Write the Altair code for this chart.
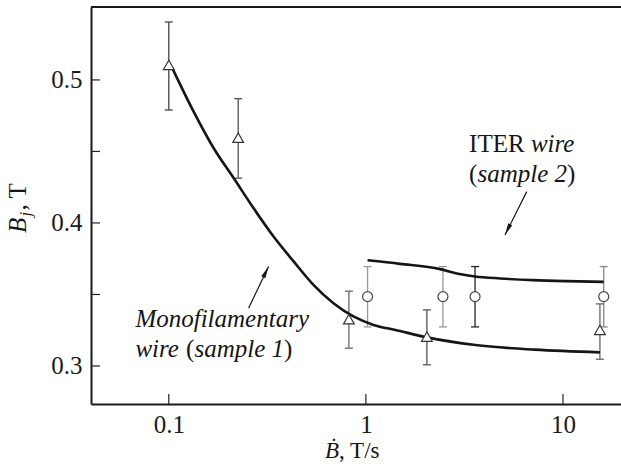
import altair as alt
import pandas as pd

FONT = "Liberation Serif"

# ---- data ----
s1_x = [0.1, 0.225, 0.82, 2.04, 15.4]
s1_y = [0.5105, 0.4596, 0.3327, 0.3205, 0.3252]
s1_lo = [0.479, 0.4313, 0.3124, 0.3008, 0.3047]
s1_hi = [0.5405, 0.4869, 0.3523, 0.3392, 0.3434]
s1_bar = ["#444", "#555", "#666", "#555", "#666"]

s2_x = [1.02, 2.46, 3.58, 16.1]
s2_y = [0.3485, 0.3485, 0.3485, 0.3485]
s2_lo = [0.3273, 0.3273, 0.3273, 0.3273]
s2_hi = [0.3695, 0.3695, 0.3695, 0.3695]
s2_bar = ["#999", "#999", "#222", "#888"]

c1_x = [0.104, 0.1337, 0.169, 0.2133, 0.269, 0.340, 0.430, 0.542, 0.685, 0.865, 1.093, 1.43, 2.04, 3.6, 7.2, 15.4]
c1_y = [0.5085, 0.4778, 0.4522, 0.4314, 0.4104, 0.3905, 0.3731, 0.3567, 0.3439, 0.3346, 0.3287, 0.3250, 0.3200, 0.3146, 0.3114, 0.3095]

c2_x = [1.02, 1.49, 2.38, 2.89, 3.58, 4.80, 7.06, 10.4, 16.1]
c2_y = [0.3739, 0.3714, 0.3677, 0.3647, 0.3626, 0.3612, 0.3600, 0.3593, 0.3588]

x_ticks = [0.1, 1, 10]
y_labels = [0.3, 0.4, 0.5]
y_ticks = [0.3, 0.35, 0.4, 0.45, 0.5]

X_DOMAIN = [0.0403, 19.7]
Y_DOMAIN = [0.2734, 0.551]
W, H = 530, 397

xs = alt.Scale(type="log", domain=X_DOMAIN, nice=False, zero=False)
ys = alt.Scale(domain=Y_DOMAIN, nice=False, zero=False)

AX = alt.Axis(values=x_ticks, format="~g", ticks=False, tickSize=0, grid=False, title=None,
              domainColor="#1a1a1a", domainWidth=2, labelFont=FONT,
              labelFontSize=25, labelColor="#1a1a1a", labelPadding=8, labelFlush=False)
AY = alt.Axis(values=y_labels, format=".1f", ticks=False, tickSize=0, grid=False, title=None,
              domainColor="#1a1a1a", domainWidth=2, labelFont=FONT,
              labelFontSize=25, labelColor="#1a1a1a", labelPadding=9)

pts = pd.DataFrame({
    "x": s1_x + s2_x,
    "y": s1_y + s2_y,
    "lo": s1_lo + s2_lo,
    "hi": s1_hi + s2_hi,
    "bar": s1_bar + s2_bar,
    "sample": ["1"] * len(s1_x) + ["2"] * len(s2_x),
})
curves = pd.DataFrame({
    "x": c1_x + c2_x,
    "y": c1_y + c2_y,
    "sample": ["1"] * len(c1_x) + ["2"] * len(c2_x),
})

X = lambda f="x": alt.X(f + ":Q", scale=xs, axis=AX)
Y = lambda f="y": alt.Y(f + ":Q", scale=ys, axis=AY)

top_line = alt.Chart(pd.DataFrame({"a": [0]})).mark_rule(color="#1a1a1a", strokeWidth=2).encode(
    x=alt.value(0), x2=alt.value(W), y=alt.value(0))

ytick_rules = alt.Chart(pd.DataFrame({"y": y_ticks})).mark_rule(color="#222", strokeWidth=1.2).encode(
    y=Y(), x=alt.value(0), x2=alt.value(9))
xtick_rules = alt.Chart(pd.DataFrame({"x": x_ticks})).mark_rule(color="#222", strokeWidth=1.2).encode(
    x=X(), y=alt.value(H), y2=alt.value(H - 10))

bars = alt.Chart(pts).mark_rule(strokeWidth=1.3).encode(
    x=X(), y=Y("lo"), y2="hi:Q", color=alt.Color("bar:N", scale=None))
cap_lo = alt.Chart(pts).mark_rule(strokeWidth=1.3, xOffset=-4, x2Offset=4).encode(
    x=X(), x2="x:Q", y=Y("lo"), color=alt.Color("bar:N", scale=None))
cap_hi = alt.Chart(pts).mark_rule(strokeWidth=1.3, xOffset=-4, x2Offset=4).encode(
    x=X(), x2="x:Q", y=Y("hi"), color=alt.Color("bar:N", scale=None))

tri = alt.Chart(pts[pts["sample"] == "1"]).mark_point(
    shape="triangle-up", size=115, filled=True, fill="white", stroke="#333", strokeWidth=1.2, opacity=1
).encode(x=X(), y=Y())
circ = alt.Chart(pts[pts["sample"] == "2"]).mark_point(
    shape="circle", size=100, filled=True, fill="white", stroke="#444", strokeWidth=1.2, opacity=1
).encode(x=X(), y=Y())

lines = alt.Chart(curves).mark_line(color="#151515", strokeWidth=2.6, interpolate="monotone").encode(
    x=X(), y=Y(), detail="sample:N")

# ---- annotations ----
def txt(s, x, y, dx=0, italic=False, size=25):
    return alt.Chart(pd.DataFrame({"x": [x], "y": [y], "t": [s]})).mark_text(
        align="left", baseline="alphabetic", dx=dx, font=FONT, fontSize=size,
        fontStyle="italic" if italic else "normal", color="#151515"
    ).encode(x=X(), y=Y(), text="t:N")

def ptxt(s, px, py, italic=False, size=24, angle=0):
    return alt.Chart(pd.DataFrame({"t": [s]})).mark_text(
        align="left", baseline="alphabetic", font=FONT, fontSize=size, angle=angle,
        fontStyle="italic" if italic else "normal", color="#151515"
    ).encode(x=alt.value(px), y=alt.value(py), text="t:N")

iter_x, iter_y1, iter_y2 = 3.34, 0.4499, 0.4289
mono_x, mono_y1, mono_y2 = 0.0677, 0.3275, 0.3065

ann = [
    txt("ITER", iter_x, iter_y1),
    txt("wire", iter_x, iter_y1, dx=61.8, italic=True),
    txt("(", iter_x, iter_y2),
    txt("sample 2", iter_x, iter_y2, dx=8.3, italic=True),
    txt(")", iter_x, iter_y2, dx=98.0),
    txt("Monofilamentary", mono_x, mono_y1, italic=True),
    txt("wire", mono_x, mono_y2, italic=True),
    txt("(", mono_x, mono_y2, dx=50.7),
    txt("sample 1", mono_x, mono_y2, dx=59.0, italic=True),
    txt(")", mono_x, mono_y2, dx=148.6),
]

arrows = pd.DataFrame({
    "x": [6.55, 0.254], "y": [0.4219, 0.3404],
    "x2": [5.08, 0.3208], "y2": [0.3916, 0.3695],
})
arrow_lines = alt.Chart(arrows).mark_rule(color="#151515", strokeWidth=1.2).encode(
    x=X(), y=Y(), x2="x2:Q", y2="y2:Q")
HEAD = "M0,0 L-0.45,2.4 L0.45,2.4 Z"
head1 = alt.Chart(arrows.iloc[[0]]).mark_point(
    shape=HEAD, size=100, filled=True, color="#151515", opacity=1, angle=206
).encode(x=X("x2"), y=Y("y2"))
head2 = alt.Chart(arrows.iloc[[1]]).mark_point(
    shape=HEAD, size=100, filled=True, color="#151515", opacity=1, angle=26
).encode(x=X("x2"), y=Y("y2"))

# axis titles built from text pieces (mixed italic/regular, subscript)
titles = [
    ptxt("\u1e02", 234, 451, italic=True, size=23),
    ptxt(", T/s", 248, 451, size=23),
    ptxt("B", -65, 226, italic=True, size=25, angle=270),
    ptxt("j", -60, 209.5, italic=True, size=17, angle=270),
    ptxt(", T", -65, 203.5, size=25, angle=270),
]

chart = alt.layer(
    top_line, ytick_rules, xtick_rules,
    bars, cap_lo, cap_hi, lines, tri, circ,
    arrow_lines, head1, head2, *ann, *titles
).properties(
    width=W, height=H,
    autosize=alt.AutoSizeParams(type="none"),
    padding={"left": 91, "top": 7, "right": 0, "bottom": 68},
).configure_view(strokeWidth=0)

chart.save("out.html", embed_options={"renderer": "svg", "actions": False})
